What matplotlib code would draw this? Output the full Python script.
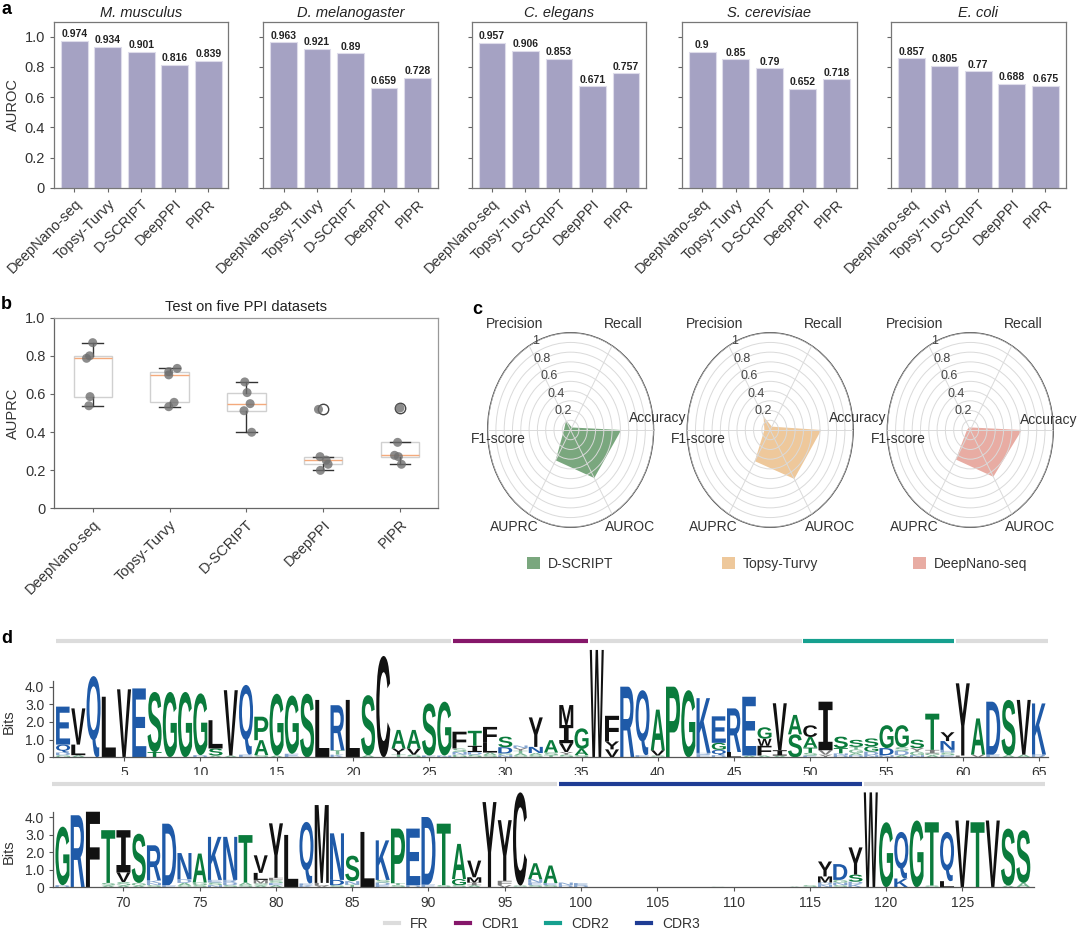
import numpy as np
import matplotlib
matplotlib.use('Agg')
import matplotlib.pyplot as plt
from matplotlib.textpath import TextPath
from matplotlib.patches import PathPatch, Patch
from matplotlib.lines import Line2D
from matplotlib.path import Path
from matplotlib.font_manager import FontProperties
from matplotlib.transforms import Affine2D

plt.rcParams['font.family'] = ['Liberation Sans', 'DejaVu Sans']

W, H = 1080, 931

# ---------------- data ----------------
methods = ['DeepNano-seq', 'Topsy-Turvy', 'D-SCRIPT', 'DeepPPI', 'PIPR']
species = ['M. musculus', 'D. melanogaster', 'C. elegans', 'S. cerevisiae', 'E. coli']
auroc_musculus = [0.974, 0.934, 0.901, 0.816, 0.839]
auroc_melanogaster = [0.963, 0.921, 0.89, 0.659, 0.728]
auroc_elegans = [0.957, 0.906, 0.853, 0.671, 0.757]
auroc_cerevisiae = [0.9, 0.85, 0.79, 0.652, 0.718]
auroc_coli = [0.857, 0.805, 0.77, 0.688, 0.675]
auroc_all = [auroc_musculus, auroc_melanogaster, auroc_elegans, auroc_cerevisiae, auroc_coli]

# AUPRC on the five datasets, per method
auprc_deepnano = [0.869, 0.80, 0.787, 0.586, 0.538]
auprc_topsy = [0.734, 0.717, 0.70, 0.556, 0.533]
auprc_dscript = [0.663, 0.607, 0.549, 0.512, 0.399]
auprc_deepppi = [0.519, 0.271, 0.253, 0.231, 0.199]
auprc_pipr = [0.526, 0.346, 0.278, 0.271, 0.231]
auprc_all = [auprc_deepnano, auprc_topsy, auprc_dscript, auprc_deepppi, auprc_pipr]
# horizontal jitter of the strip points (style)
jitter = [[0, -0.04, -0.08, -0.035, -0.05],
          [0.1, -0.01, -0.01, 0.06, -0.01],
          [-0.02, 0.01, 0.05, -0.03, 0.07],
          [-0.06, -0.04, 0.04, 0.065, -0.035],
          [0, -0.03, -0.07, -0.02, 0.02]]

radar_metrics = ['Accuracy', 'Recall', 'Precision', 'F1-score', 'AUPRC', 'AUROC']
radar_models = ['D-SCRIPT', 'Topsy-Turvy', 'DeepNano-seq']
radar_dscript = [0.61, 0.03, 0.11, 0.08, 0.36, 0.57]
radar_topsy = [0.615, 0.04, 0.16, 0.07, 0.37, 0.58]
radar_deepnano = [0.62, 0.03, 0.03, 0.04, 0.35, 0.555]
radar_all = [radar_dscript, radar_topsy, radar_deepnano]

# sequence logo: letters bottom->top and their heights (bits), positions 1..129
logo_letters = [
    "GDQE", "ALV", "Q", "L", "V", "E", "TS", "G", "G", "DG",
    "ASL", "AV", "EQ", "SAP", "AG", "EG", "S", "L", "KTR", "L",
    "AS", "C", "TYA", "SVA", "ES", "NG", "GNSF", "SDIT", "SALF", "NGDS",
    "SATYN", "SANY", "TSA", "SYVIM", "SAG", "W", "VYF", "R", "EQ", "SVA",
    "P", "G", "EDK", "DQGE", "LR", "AE", "AFWG", "AIV", "SA", "ESTAC",
    "YVI", "DNTS", "DAGTS", "NDGS", "NDG", "ADSG", "NGYS", "AGIT", "ESHNY", "LY",
    "VA", "ED", "AS", "AV", "RK",
    "DG", "R", "F", "AST", "ASVI", "AGS", "SNKR", "ED", "SADN", "SGA",
    "NSEK", "SDRN", "SAT", "ASMLV", "AESFY", "L", "KEQ", "VLM", "SDN", "TNS",
    "L", "EDSK", "STP", "DE", "ED", "ST", "SGA", "AIMV", "Y", "VFY",
    "SC", "SENA", "SEA", "DN", "DE", "", "", "", "", "",
    "", "", "", "G", "", "", "", "", "A", "S",
    "NDMY", "SNGD", "KDSY", "W", "G", "KQ", "G", "ST", "LQ", "V",
    "T", "V", "AS", "AS",
]
logo_bits = [
    [.12, .15, .45, 2.15], [.12, .6, 2.05], [4.6], [3.43], [3.85], [3.9], [.3, 3.4], [3.7], [3.7], [.12, 3.5],
    [.1, .4, 1.6], [.1, 3.7], [.15, 3.95], [.12, .85, 1.33], [.1, 3.5], [.2, 3.3], [3.6], [3.25], [.15, .25, 2.55], [3.25],
    [.12, 3.4], [5.74], [.15, .35, 1.05], [.15, .35, 1.05], [.1, 2.95], [.1, 3.05], [.15, .15, .2, .95], [.15, .15, .35, .85], [.12, .15, .55, .9], [.12, .1, .35, .6],
    [.1, .12, .15, .15, .15], [.12, .12, .35, 1.67], [.12, .15, .7], [.15, .15, .5, 1.03, 1.13], [.12, .35, 1.17], [6.08], [.45, .45, 1.45], [4.0], [.12, 3.68], [.1, .3, 2.3],
    [4.0], [3.8], [.15, .1, 3.1], [.12, .3, .4, 1.5], [.3, 2.47], [.1, 3.33], [.1, .55, .4, .65], [.1, .3, 2.66], [1.3, 1.1], [.1, .15, .3, .6, .66],
    [.15, .25, 2.75], [.12, .1, .3, .65], [.12, .12, .2, .15, .4], [.12, .2, .3, .45], [.12, .4, 1.3], [.12, .25, .2, 1.25], [.12, .2, .2, .48], [.12, .1, .2, 2.05], [.12, .15, .15, .5, .5], [.1, 4.09],
    [.15, 2.05], [.15, 3.0], [.12, 3.13], [.15, 3.1], [.15, 2.9],
    [.12, 3.33], [4.1], [4.3], [.1, .15, 3.0], [.1, .2, .55, 2.4], [.1, .15, 2.8], [.12, .12, .15, 2.0], [.12, 3.5], [.1, .15, .2, 1.5], [.12, .15, 1.65],
    [.12, .15, .15, 2.45], [.12, .15, .15, 2.45], [.12, .15, 2.7], [.1, .12, .2, .4, 1.0], [.12, .12, .15, .15, 3.1], [2.98], [.12, .1, 3.5], [.1, .15, 4.43], [.12, .3, 2.65], [.15, .2, 1.45],
    [3.15], [.12, .15, .15, 2.25], [.12, .12, 3.1], [.12, 3.22], [.15, 3.85], [.12, 3.5], [.12, .35, 2.0], [.12, .15, .3, .95], [4.85], [.12, .25, 3.45],
    [.1, 5.3], [.12, .15, .2, .9], [.12, .12, 1.0], [.12, .15], [.12, .12], [], [], [], [], [],
    [], [], [], [.03], [], [], [], [], [.04], [.12],
    [.15, .12, .35, .85], [.12, .15, .15, .9], [.2, .12, .4, 1.55], [5.4], [3.7], [.5, 2.65], [3.8], [.1, 3.6], [.35, 2.8], [3.8],
    [3.7], [3.8], [.1, 3.24], [.25, 3.0],
]
region_names = ['FR', 'CDR1', 'FR', 'CDR2', 'FR', 'CDR3', 'FR']
region_start = [1, 27, 36, 50, 60, 99, 119]
region_end = [26, 35, 49, 59, 98, 118, 129]

# ---------------- styles ----------------
BAR_COLOR = '#a5a2c3'
RADAR_COLORS = ['#7aa77e', '#eec89b', '#e8aca3']
REGION_COLORS = {'FR': '#dcdcdc', 'CDR1': '#86176a', 'CDR2': '#16a08f', 'CDR3': '#1f3c94'}
GREEN, BLUE, BLACK = '#0a7b3c', '#1f5aa8', '#111111'
AA_COLOR = {}
for c in 'GSTAP':
    AA_COLOR[c] = GREEN
for c in 'QERDKNH':
    AA_COLOR[c] = BLUE
for c in 'VLIWFCMY':
    AA_COLOR[c] = BLACK

fig = plt.figure(figsize=(W / 100, H / 100), dpi=100)


def px_axes(l, t, r, b, **kw):
    return fig.add_axes([l / W, 1 - b / H, (r - l) / W, (b - t) / H], **kw)


def style_spines(ax, color='#777777', lw=0.9):
    for s in ax.spines.values():
        s.set_color(color)
        s.set_linewidth(lw)


# ---------------- panel a ----------------
a_lefts = [54.1, 263.4, 471.8, 682.2, 891.2]
for k, (name, vals) in enumerate(zip(species, auroc_all)):
    ax = px_axes(a_lefts[k], 22.4, a_lefts[k] + 174.3, 187.7)
    x = np.arange(len(methods))
    ax.bar(x, vals, width=0.8, color=BAR_COLOR, edgecolor='#dedcea', linewidth=0.8)
    for xi, v in zip(x, vals):
        ax.text(xi, v + 0.012, f'{v:g}', ha='center', va='bottom', fontsize=7.5,
                fontweight='bold', color='#222222')
    ax.set_xlim(-0.6, 4.6)
    ax.set_ylim(0, 1.095)
    ax.set_yticks([0, 0.2, 0.4, 0.6, 0.8, 1.0])
    ax.set_xticks(x)
    ax.set_xticklabels(methods, rotation=45, ha='right', rotation_mode='anchor', fontsize=10.5)
    ax.set_title(name, style='italic', fontsize=10.5, pad=4, color='#222222')
    ax.tick_params(direction='out', length=3, color='#666666', labelsize=10.5, labelcolor='#333333')
    if k == 0:
        ax.set_yticklabels(['0', '0.2', '0.4', '0.6', '0.8', '1.0'])
        ax.set_ylabel('AUROC', fontsize=10.5, color='#333333')
        ax.yaxis.set_label_coords(-0.195, 0.5)
    else:
        ax.set_yticklabels([])
    style_spines(ax)

# ---------------- panel b ----------------
axb = px_axes(54.3, 317.7, 438.3, 508.3)
bp = axb.boxplot(auprc_all, positions=range(5), widths=0.5, patch_artist=True,
                 capwidths=0.27,
                 boxprops=dict(facecolor='white', edgecolor='#d0d0d0', linewidth=1),
                 medianprops=dict(color='#f4aa7c', linewidth=1),
                 whiskerprops=dict(color='#333333', linewidth=1),
                 capprops=dict(color='#333333', linewidth=1),
                 flierprops=dict(marker='o', markerfacecolor='white', markeredgecolor='#444444',
                                 markersize=7.5, zorder=2))
for i, (vals, jit) in enumerate(zip(auprc_all, jitter)):
    axb.scatter(np.array(jit) + i, vals, s=42, color='#6f6f6f', alpha=0.8,
                edgecolors='none', zorder=3)
axb.set_xlim(-0.5, 4.5)
axb.set_ylim(0, 1.0)
axb.set_yticks([0, 0.2, 0.4, 0.6, 0.8, 1.0])
axb.set_yticklabels(['0', '0.2', '0.4', '0.6', '0.8', '1.0'])
axb.set_xticks(range(5))
axb.set_xticklabels(methods, rotation=45, ha='right', rotation_mode='anchor', fontsize=10.5)
axb.tick_params(direction='out', length=3, color='#666666', labelsize=10.5, labelcolor='#333333')
axb.set_ylabel('AUPRC', fontsize=10.5, color='#333333')
axb.yaxis.set_label_coords(-0.09, 0.5)
axb.set_title('Test on five PPI datasets', fontsize=10.5, pad=5, color='#222222')
style_spines(axb, '#999999')
axb.spines['left'].set_color('#666666')
axb.spines['bottom'].set_color('#666666')

# ---------------- panel c ----------------
angles = np.deg2rad([0, 60, 120, 180, 240, 300])
label_pos = {'Precision': (121.6, 1.28), 'Recall': (59.6, 1.26), 'Accuracy': (6.5, 1.06),
             'F1-score': (186.0, 0.87), 'AUPRC': (235.8, 1.21), 'AUROC': (305.8, 1.23)}
centers = [570.6, 770.2, 970.3]
for k, (model, vals) in enumerate(zip(radar_models, radar_all)):
    cx, cy, ra, rb = centers[k], 430.0, 83.0, 97.3
    ax = px_axes(cx - ra, cy - rb, cx + ra, cy + rb, projection='polar')
    ax.set_aspect('auto')
    th = np.append(angles, angles[0])
    rv = np.append(vals, vals[0])
    ax.fill(th, rv, color=RADAR_COLORS[k], alpha=1.0, lw=0, zorder=1)
    ax.set_ylim(0, 1)
    ax.set_xticks(angles)
    ax.set_xticklabels([])
    ax.set_yticks(np.arange(0.1, 1.001, 0.1))
    ax.set_yticklabels([])
    ax.grid(True, color='#dadada', linewidth=0.7)
    ax.set_axisbelow(False)
    ax.spines['polar'].set_color('#444444')
    ax.spines['polar'].set_linewidth(0.9)
    for m in radar_metrics:
        ang, r = label_pos[m]
        if m == 'Accuracy' and k == 2:
            r = 0.95
        ax.text(np.deg2rad(ang), r, m, ha='center', va='center', fontsize=10, color='#333333')
    for r, lab in zip([0.2, 0.4, 0.6, 0.8, 1.0], ['0.2', '0.4', '0.6', '0.8', '1']):
        ax.text(np.deg2rad(115), r + 0.01, lab, ha='center', va='center', fontsize=9, color='#444444')
    ax.legend(handles=[Patch(facecolor=RADAR_COLORS[k], label=model)], loc='center',
              bbox_to_anchor=(cx / W, 1 - 564 / H), bbox_transform=fig.transFigure,
              frameon=False, fontsize=10, handlelength=0.9, handleheight=0.9,
              handletextpad=0.6, labelcolor='#333333')

# ---------------- panel d ----------------
FP_LOGO = FontProperties(family='Liberation Sans', weight='bold')
FP_I = FontProperties(family='DejaVu Sans Mono', weight='bold')
_glyphs = {}


def glyph(ch):
    # glyph outline as plain vertices/codes, normalised to the unit square
    if ch not in _glyphs:
        tp = TextPath((0, 0), ch, size=1, prop=FP_I if ch == 'I' else FP_LOGO)
        verts = np.array(tp.vertices, dtype=float)
        codes = np.array(tp.codes)
        keep = np.isin(codes, [Path.MOVETO, Path.LINETO, Path.CURVE3, Path.CURVE4])
        x0, y0 = verts[keep].min(axis=0)
        x1, y1 = verts[keep].max(axis=0)
        norm = (verts - [x0, y0]) / [x1 - x0, y1 - y0]
        _glyphs[ch] = (norm, codes)
    return _glyphs[ch]


def draw_letter(ax, ch, x, y0, h, width=0.92):
    norm, codes = glyph(ch)
    verts = norm * [width, h] + [x - width / 2, y0]
    alpha = 0.55 if h < 0.3 else 1.0
    ax.add_patch(PathPatch(Path(verts, codes), facecolor=AA_COLOR[ch],
                           edgecolor='none', lw=0, alpha=alpha, snap=False))


rows = [
    dict(top=630, bottom=757.3, xlim=(0.36, 65.57), ytop=7.21, bar_y=6.6,
         ticks=list(range(5, 66, 5)), pos=(1, 65), axis_end=65.57),
    dict(top=775, bottom=887.3, xlim=(65.4, 130.6), ytop=6.39, bar_y=5.85,
         ticks=list(range(70, 126, 5)), pos=(66, 129), axis_end=129.7),
]
for row in rows:
    ax = px_axes(53.3, row['top'], 1047.7, row['bottom'])
    p0, p1 = row['pos']
    for p in range(p0, p1 + 1):
        y = 0.0
        for ch, h in zip(logo_letters[p - 1], logo_bits[p - 1]):
            draw_letter(ax, ch, p, y, h)
            y += h
    lo, hi = row['xlim']
    for name, s, e in zip(region_names, region_start, region_end):
        a_, b_ = max(s - 0.45, lo - 0.1), min(e + 0.45, hi)
        if b_ > a_ and s <= p1 + 1 and e >= p0 - 1:
            a_ = max(a_, p0 - 0.7)
            if name == 'FR' and e == region_end[-1]:
                b_ = e + 1.4
            ax.plot([a_, b_], [row['bar_y']] * 2, color=REGION_COLORS[name], lw=3,
                    solid_capstyle='butt', clip_on=False)
    ax.set_xlim(*row['xlim'])
    ax.set_ylim(0, row['ytop'])
    ax.set_xticks(row['ticks'])
    ax.set_yticks([0, 1, 2, 3, 4])
    ax.set_yticklabels(['0', '1.0', '2.0', '3.0', '4.0'])
    ax.set_ylabel('Bits', fontsize=10.5, color='#333333')
    ax.yaxis.set_label_coords(-0.038, 2.0 / row['ytop'])
    for s in ['top', 'right']:
        ax.spines[s].set_visible(False)
    ax.spines['left'].set_bounds(0, 4.3)
    ax.spines['bottom'].set_bounds(row['xlim'][0], row['axis_end'])
    for s in ['left', 'bottom']:
        ax.spines[s].set_color('#555555')
        ax.spines[s].set_linewidth(0.9)
    ax.tick_params(direction='out', length=3, color='#555555', labelsize=10, labelcolor='#333333')

handles = [Line2D([], [], color=REGION_COLORS[n], lw=3) for n in ['FR', 'CDR1', 'CDR2', 'CDR3']]
fig.legend(handles, ['FR', 'CDR1', 'CDR2', 'CDR3'], loc='center', bbox_to_anchor=(0.502, 1 - 924 / H),
           ncol=4, frameon=False, fontsize=10, handlelength=1.0, columnspacing=2.0,
           labelcolor='#333333')

# ---------------- panel letters ----------------
for lab, x, y in [('a', 1, 1), ('b', 1, 296), ('c', 472, 301), ('d', 1, 630)]:
    fig.text(x / W, 1 - y / H, lab, fontsize=13, fontweight='bold', ha='left', va='top',
             family='Liberation Sans')

fig.savefig('out.png', dpi=100)
